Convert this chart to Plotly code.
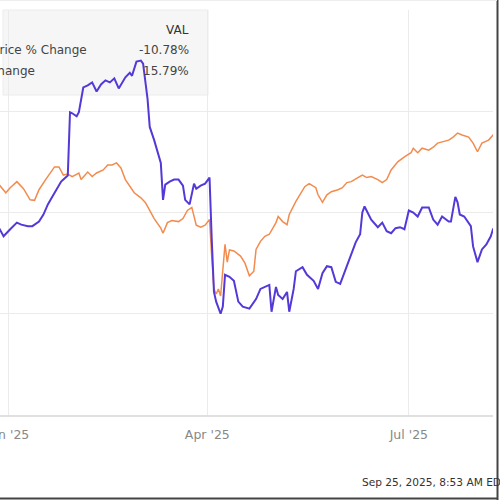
import plotly.graph_objects as go

# ---- data ----
val_dates = ["2024-12-28","2024-12-30","2025-01-02","2025-01-05","2025-01-07","2025-01-10","2025-01-12","2025-01-15","2025-01-17","2025-01-19",
             "2025-01-21","2025-01-23","2025-01-25","2025-01-27","2025-01-28","2025-01-29","2025-01-30","2025-02-01","2025-02-02","2025-02-04",
             "2025-02-06","2025-02-08","2025-02-10","2025-02-12","2025-02-14","2025-02-16","2025-02-18","2025-02-20","2025-02-23","2025-02-25",
             "2025-02-26","2025-02-28","2025-03-02","2025-03-03","2025-03-05","2025-03-06","2025-03-08","2025-03-11","2025-03-12","2025-03-13",
             "2025-03-15","2025-03-17","2025-03-19","2025-03-21","2025-03-22","2025-03-24","2025-03-26","2025-03-27","2025-03-29","2025-03-31",
             "2025-04-02","2025-04-03","2025-04-04","2025-04-05","2025-04-07","2025-04-08","2025-04-09","2025-04-11","2025-04-13","2025-04-15",
             "2025-04-17","2025-04-20","2025-04-23","2025-04-25","2025-04-27","2025-04-29","2025-04-30","2025-05-02","2025-05-03","2025-05-05",
             "2025-05-07","2025-05-08","2025-05-10","2025-05-11","2025-05-14","2025-05-16","2025-05-19","2025-05-21","2025-05-23","2025-05-25",
             "2025-05-27","2025-05-29","2025-05-31","2025-06-02","2025-06-04","2025-06-07","2025-06-09","2025-06-10","2025-06-11","2025-06-13",
             "2025-06-14","2025-06-17","2025-06-19","2025-06-21","2025-06-23","2025-06-25","2025-06-27","2025-06-29","2025-07-01","2025-07-03",
             "2025-07-05","2025-07-07","2025-07-10","2025-07-12","2025-07-14","2025-07-16","2025-07-19","2025-07-20","2025-07-22","2025-07-23",
             "2025-07-24","2025-07-26","2025-07-29","2025-07-30","2025-08-01","2025-08-03","2025-08-05","2025-08-07","2025-08-08","2025-08-09"]
val_change = [-3.1,-4.7,-3.3,-2.0,-2.4,-2.7,-2.7,-1.8,-0.4,1.6,
              3.1,4.7,6.1,6.9,7.3,19.8,19.6,19.0,19.8,24.7,
              25.1,25.7,23.9,25.3,26.1,25.7,26.5,24.5,26.7,27.6,
              27.0,29.8,30.0,29.4,22.5,16.9,14.3,9.8,2.5,5.5,
              6.1,6.5,6.5,5.3,2.5,1.6,5.7,4.7,5.3,5.7,
              6.9,-5.3,-15.7,-17.6,-20.0,-18.6,-12.3,-12.7,-13.5,-17.6,
              -18.6,-19.0,-17.1,-15.1,-14.7,-14.3,-19.6,-14.7,-16.3,-17.1,
              -15.7,-19.6,-15.1,-11.6,-10.8,-12.3,-13.5,-15.1,-12.0,-10.6,
              -10.8,-13.7,-14.1,-11.8,-9.6,-5.9,-4.3,0.0,1.2,-0.4,
              -1.4,-2.9,-2.0,-3.7,-4.1,-3.1,-2.9,-3.3,0.4,0.0,
              -0.8,1.0,1.0,-1.4,-2.4,-0.8,-1.8,-1.8,3.1,2.0,
              -0.4,-0.8,-2.7,-6.7,-9.8,-7.3,-6.3,-4.7,-3.3,-2.9]

spx_dates = ["2024-12-28","2024-12-31","2025-01-02","2025-01-05","2025-01-08","2025-01-11","2025-01-13","2025-01-15","2025-01-18","2025-01-20",
             "2025-01-22","2025-01-24","2025-01-26","2025-01-28","2025-01-30","2025-02-02","2025-02-03","2025-02-06","2025-02-08","2025-02-10",
             "2025-02-13","2025-02-15","2025-02-17","2025-02-19","2025-02-21","2025-02-23","2025-02-25","2025-02-27","2025-03-02","2025-03-04",
             "2025-03-06","2025-03-08","2025-03-11","2025-03-12","2025-03-14","2025-03-16","2025-03-19","2025-03-21","2025-03-23","2025-03-25",
             "2025-03-27","2025-03-29","2025-03-31","2025-04-02","2025-04-03","2025-04-04","2025-04-05","2025-04-06","2025-04-07","2025-04-08",
             "2025-04-09","2025-04-10","2025-04-11","2025-04-13","2025-04-16","2025-04-18","2025-04-20","2025-04-22","2025-04-23","2025-04-25",
             "2025-04-27","2025-04-29","2025-05-02","2025-05-03","2025-05-05","2025-05-07","2025-05-08","2025-05-11","2025-05-13","2025-05-15",
             "2025-05-17","2025-05-20","2025-05-21","2025-05-23","2025-05-25","2025-05-27","2025-05-30","2025-06-01","2025-06-03","2025-06-05",
             "2025-06-08","2025-06-10","2025-06-12","2025-06-14","2025-06-17","2025-06-19","2025-06-21","2025-06-23","2025-06-26","2025-06-27",
             "2025-06-29","2025-07-02","2025-07-03","2025-07-05","2025-07-07","2025-07-10","2025-07-12","2025-07-14","2025-07-16","2025-07-19",
             "2025-07-21","2025-07-23","2025-07-25","2025-07-28","2025-07-30","2025-08-01","2025-08-03","2025-08-06","2025-08-08","2025-08-09"]
spx_change = [5.5,3.9,4.9,6.1,4.7,2.5,2.4,4.5,6.5,7.8,
              9.0,9.0,7.4,7.6,7.1,7.8,6.5,8.0,7.1,7.8,
              8.4,9.4,9.4,9.8,8.8,6.5,5.1,3.9,2.9,2.0,
              0.4,-1.2,-3.1,-4.1,-2.0,-1.6,-1.8,-1.2,0.4,1.0,
              -2.5,-2.9,-2.5,-1.4,-8.8,-15.1,-16.1,-15.1,-16.5,-11.2,
              -6.3,-9.8,-7.4,-7.6,-8.6,-10.0,-12.5,-11.6,-7.3,-5.7,
              -4.7,-4.3,-2.0,-0.8,-1.8,-2.4,-0.4,2.2,3.7,5.1,
              5.7,4.9,3.5,2.0,3.5,4.1,4.5,4.9,5.9,6.1,
              6.9,7.4,6.9,7.1,6.5,5.9,6.5,8.4,10.0,10.4,
              11.0,11.8,12.7,11.8,12.7,12.3,12.9,13.7,13.9,14.3,
              14.9,15.7,15.3,14.9,13.7,12.0,13.7,14.3,15.3,15.7]

tick_dates = ["2025-01-01", "2025-04-01", "2025-07-01"]
tick_labels = ["Jan '25", "Apr '25", "Jul '25"]
legend_header = "VAL"
legend_names = ["Valaris Ltd Price % Change", "S&P 500 % Change"]
legend_values = ["-10.78%", "15.79%"]
timestamp = "Sep 25, 2025, 8:53 AM EDT  Powered by YCHARTS"

BLUE = "#5438d8"
ORANGE = "#f38b4e"
FONT = "DejaVu Sans, Verdana, sans-serif"

fig = go.Figure()
fig.add_trace(go.Scatter(x=spx_dates, y=spx_change, mode="lines",
                         line=dict(color=ORANGE, width=1.5), hoverinfo="skip"))
fig.add_trace(go.Scatter(x=val_dates, y=val_change, mode="lines",
                         line=dict(color=BLUE, width=2), hoverinfo="skip"))

# legend panel (behind lines)
fig.add_shape(type="rect", xref="paper", yref="paper",
              x0=3/493, x1=208/493, y0=(415-95)/405, y1=1.0,
              fillcolor="#f6f6f6", line=dict(color="#ececec", width=1), layer="below")

fig.add_annotation(xref="paper", yref="paper", x=191/493, y=(415-30)/405,
                   text=legend_header, showarrow=False,
                   xanchor="right", yanchor="middle", font=dict(family=FONT, size=12, color="#333"))
row_y = [50, 71]
name_right = [89, 37]
for i in range(2):
    fig.add_annotation(xref="paper", yref="paper", x=name_right[i]/493, y=(415-row_y[i])/405,
                       text=legend_names[i], showarrow=False, xanchor="right", yanchor="middle",
                       font=dict(family=FONT, size=12, color="#444"))
    fig.add_annotation(xref="paper", yref="paper", x=191/493, y=(415-row_y[i])/405,
                       text=legend_values[i], showarrow=False, xanchor="right", yanchor="middle",
                       font=dict(family=FONT, size=12, color="#444"))

fig.add_annotation(xref="paper", yref="paper", x=360/493, y=(415-482)/405,
                   text=timestamp, showarrow=False, xanchor="left", yanchor="middle",
                   font=dict(family=FONT, size=10.6, color="#333"))

# frame edges
fig.add_shape(type="line", xref="paper", yref="paper", x0=497.5/493, x1=497.5/493,
              y0=(415-500)/405, y1=(415-0)/405, line=dict(color="#444", width=2))
fig.add_shape(type="line", xref="paper", yref="paper", x0=0, x1=498/493,
              y0=(415-498.5)/405, y1=(415-498.5)/405, line=dict(color="#444", width=2))
fig.add_shape(type="line", xref="paper", yref="paper", x0=0, x1=497/493,
              y0=(415-0.5)/405, y1=(415-0.5)/405, line=dict(color="#eeeeee", width=1))

fig.update_layout(
    width=500, height=500,
    margin=dict(l=0, r=7, t=10, b=85, autoexpand=False),
    paper_bgcolor="white", plot_bgcolor="white",
    showlegend=False,
    font=dict(family=FONT),
)
fig.update_xaxes(
    type="date", range=["2024-12-28 09:20", "2025-08-08 00:00"],
    tickvals=tick_dates, ticktext=tick_labels,
    showgrid=True, gridcolor="#ebebeb", gridwidth=1,
    showline=True, linecolor="#e0e0e0", linewidth=2,
    ticks="outside", ticklen=7, tickcolor="rgba(0,0,0,0)",
    ticklabeloverflow="allow",
    tickfont=dict(family=FONT, size=12.5, color="#888"), automargin=False,
)
fig.update_yaxes(
    range=[-40, 40], tickvals=[-40, -20, 0, 20, 40],
    showticklabels=False, showgrid=True, gridcolor="#ebebeb", gridwidth=1,
    zeroline=False, showline=False, automargin=False,
)

fig.write_html("out.html", config={"displayModeBar": False, "staticPlot": True},
               post_script="document.body.style.margin='0';document.body.style.overflow='hidden';")
